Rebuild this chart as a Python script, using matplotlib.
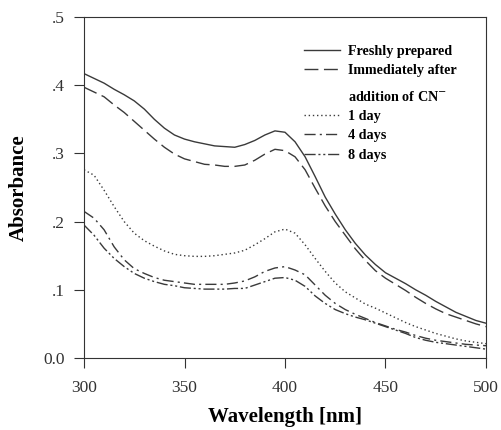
import matplotlib
matplotlib.use("Agg")
import matplotlib.pyplot as plt
from matplotlib.lines import Line2D

wavelength = [300, 305, 310, 315, 320, 325, 330, 335, 340, 345, 350, 355, 360, 365, 370,
              375, 380, 385, 390, 395, 400, 405, 410, 415, 420, 425, 430, 435, 440, 445,
              450, 455, 460, 465, 470, 475, 480, 485, 490, 495, 500]
fresh = [.417, .410, .403, .394, .386, .377, .365, .350, .337, .327, .321, .317, .314, .311,
         .310, .309, .313, .319, .327, .333, .331, .317, .295, .266, .236, .211, .188, .168,
         .151, .137, .125, .117, .109, .100, .092, .083, .075, .067, .061, .055, .051]
immediate = [.397, .390, .383, .371, .360, .347, .334, .321, .309, .299, .292, .288, .284,
             .283, .281, .281, .283, .290, .299, .306, .304, .295, .276, .249, .223, .200,
             .180, .160, .143, .128, .117, .108, .099, .089, .080, .072, .065, .060, .055,
             .050, .046]
day1 = [.276, .268, .246, .222, .200, .183, .172, .164, .157, .152, .150, .149, .149, .150,
        .152, .154, .158, .166, .175, .185, .189, .183, .166, .146, .127, .110, .097, .088,
        .079, .073, .066, .059, .052, .046, .041, .036, .032, .028, .025, .023, .021]
day4 = [.215, .205, .188, .163, .144, .131, .124, .118, .114, .112, .110, .108, .108, .108,
        .108, .110, .113, .119, .127, .132, .134, .129, .122, .107, .092, .080, .071, .064,
        .058, .052, .047, .042, .038, .033, .029, .026, .024, .022, .020, .019, .018]
day8 = [.195, .180, .161, .146, .134, .124, .117, .112, .108, .106, .103, .102, .101, .101,
        .101, .102, .102, .107, .112, .117, .118, .114, .105, .091, .080, .071, .065, .060,
        .056, .051, .046, .041, .036, .030, .026, .023, .021, .019, .017, .015, .013]

labels = ["Freshly prepared", "Immediately after", "addition of CN$^{-}$",
          "1 day", "4 days", "8 days"]
yticks = [0.0, 0.1, 0.2, 0.3, 0.4, 0.5]
ytick_labels = ["0.0", ".1", ".2", ".3", ".4", ".5"]
xticks = [300, 350, 400, 450, 500]

plt.rcParams['font.family'] = ['Liberation Serif', 'DejaVu Serif']
fig = plt.figure(figsize=(5.02, 4.30), dpi=100)
ax = fig.add_axes([84/502, 1-358/430, (486-84)/502, (358-17)/430])

col = '#3a3a3a'
styles = ['-', (0, (10, 4)), (0, (1, 2)), (0, (8, 3, 1.5, 3)), (0, (8, 2, 1.5, 2, 1.5, 2))]
series = [fresh, immediate, day1, day4, day8]
names = [labels[0], labels[1], labels[3], labels[4], labels[5]]
handles = []
for s, ls, lab in zip(series, styles, names):
    h, = ax.plot(wavelength, s, color=col, lw=1.0, linestyle=ls, label=lab)
    handles.append(h)

legkw = dict(loc='upper left', frameon=False, handlelength=2.5, handletextpad=0.55,
             labelspacing=0.45, borderpad=0, borderaxespad=0,
             prop={'weight': 'bold', 'size': 10.2})
leg1 = ax.legend(handles[:2], labels[:2], bbox_to_anchor=(0.548, 0.918), **legkw)
ax.add_artist(leg1)
blank = Line2D([], [], color='none')
ax.legend([blank] + handles[2:], labels[2:], bbox_to_anchor=(0.548, 0.787), **legkw)

ax.set_xlim(300, 500)
ax.set_ylim(0, 0.5)
ax.set_xticks(xticks)
ax.set_xticklabels([str(x) for x in xticks])
ax.set_yticks(yticks)
ax.set_yticklabels(ytick_labels)
ax.tick_params(direction='out', length=7.5, width=0.8, labelsize=12.5, colors='#333333')
ax.tick_params(axis='x', pad=8)
ax.tick_params(axis='y', pad=6.5)
for sp in ax.spines.values():
    sp.set_linewidth(0.8)
    sp.set_color('#333333')

ax.set_xlabel("Wavelength [nm]", fontsize=15, fontweight='bold', labelpad=8)
ax.set_ylabel("Absorbance", fontsize=15, fontweight='bold', labelpad=10)

fig.savefig("out.png", dpi=100)
